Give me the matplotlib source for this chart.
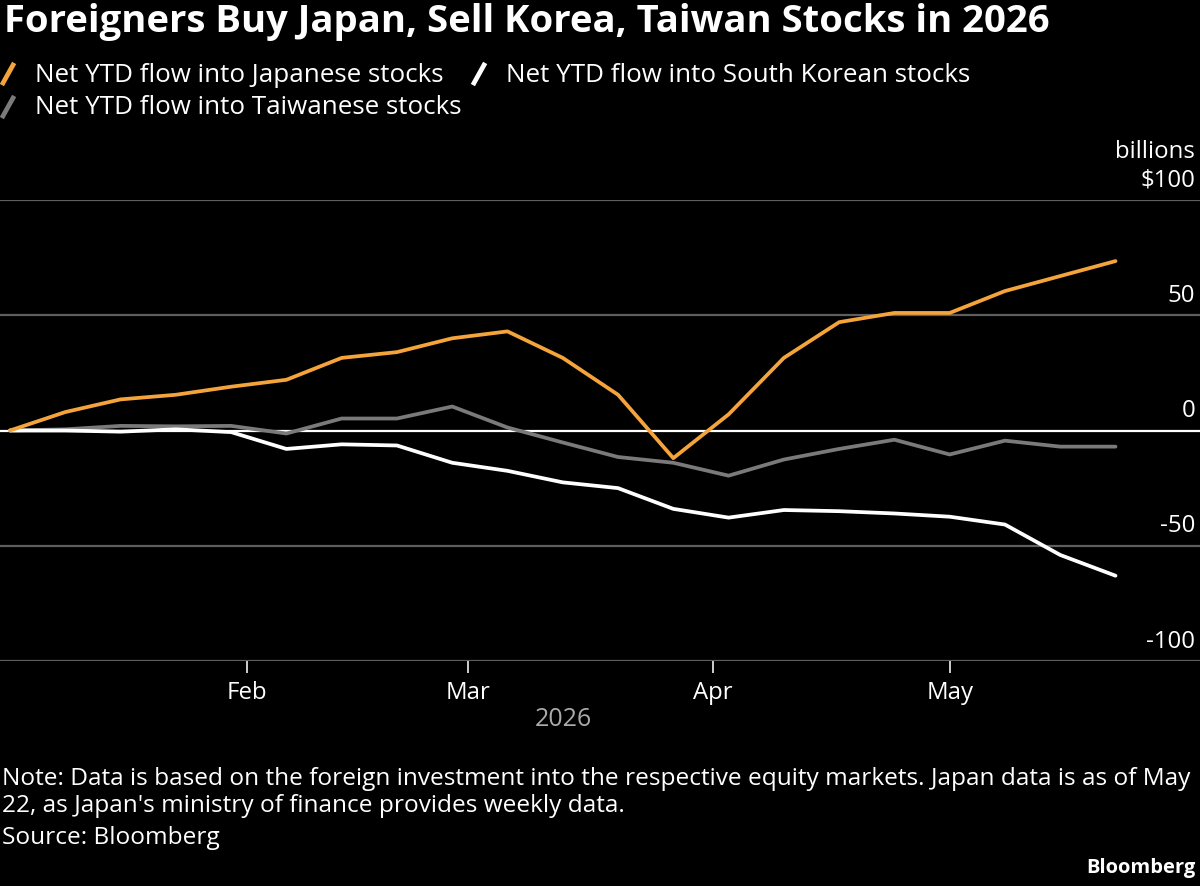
import matplotlib
matplotlib.use("Agg")
import matplotlib.pyplot as plt
from matplotlib.lines import Line2D
import pandas as pd

plt.rcParams["font.family"] = ["Open Sans", "DejaVu Sans"]

# weekly data points (Fridays)
fechas = ["2026-01-02", "2026-01-09", "2026-01-16", "2026-01-23", "2026-01-30",
          "2026-02-06", "2026-02-13", "2026-02-20", "2026-02-27", "2026-03-06",
          "2026-03-13", "2026-03-20", "2026-03-27", "2026-04-03", "2026-04-10",
          "2026-04-17", "2026-04-24", "2026-05-01", "2026-05-08", "2026-05-15",
          "2026-05-22"]
japon = [0, 8, 13.5, 15.5, 19, 22, 31.5, 34, 40, 43,
         31.5, 15.5, -12, 7, 31.5, 47, 51, 51, 60.5, 67, 73.5]
corea = [0, 0, -0.5, 0.5, -0.7, -8, -6, -6.5, -14, -17.5,
         -22.5, -25, -34, -37.8, -34.5, -35, -36, -37.4, -40.8, -54, -63]
taiwan = [0, 0.5, 2, 1.8, 2, -1.3, 5.2, 5.2, 10.4, 1.3,
          -5.2, -11.5, -14, -19.6, -12.6, -8, -4, -10.4, -4.4, -7, -7]

series = ["Net YTD flow into Japanese stocks",
          "Net YTD flow into South Korean stocks",
          "Net YTD flow into Taiwanese stocks"]
colores = ["#F5A33B", "#FFFFFF", "#7A7A7A"]
yticks = [-100, -50, 0, 50, 100]
ytick_labels = ["-100", "-50", "0", "50", "$100"]
meses = ["2026-02-01", "2026-03-01", "2026-04-01", "2026-05-01"]
mes_labels = ["Feb", "Mar", "Apr", "May"]

fechas = pd.to_datetime(fechas)
W, H = 1200, 887
fs = 17.3

fig = plt.figure(figsize=(12, 8.87), dpi=100, facecolor="black")
ax = fig.add_axes([0, (H - 662) / H, 1, (662 - 201) / H])
ax.set_facecolor("black")

# gridlines
for v in yticks:
    ax.axhline(v, color="white" if v == 0 else "#5E5E5E", lw=1.6, zorder=1)

# lines (Taiwan, Korea, Japan on top)
for datos, col in zip([taiwan, corea, japon], [colores[2], colores[1], colores[0]]):
    ax.plot(fechas, datos, color=col, lw=2.7, solid_joinstyle="round",
            solid_capstyle="round", zorder=3)

ax.set_ylim(-100, 100)
ax.set_xlim(pd.Timestamp("2026-01-02") - pd.Timedelta(days=1.27),
            pd.Timestamp("2026-05-22") + pd.Timedelta(days=10.7))
for s in ax.spines.values():
    s.set_visible(False)
ax.set_yticks([])
ax.set_xticks(pd.to_datetime(meses))
ax.set_xticklabels(mes_labels)
ax.tick_params(axis="x", colors="#DDDDDD", length=8.5, width=1.3, pad=5,
               labelsize=fs, labelcolor="white")

# y labels above gridlines on the right
trans = ax.get_yaxis_transform()
for v, lab in zip(yticks, ytick_labels):
    ax.text(0.996, v + 3.6, lab, transform=trans, ha="right", va="bottom",
            color="white", fontsize=fs)
ax.text(0.996, 100 + 16, "billions", transform=trans, ha="right", va="bottom",
        color="white", fontsize=fs)

fig.text(563 / W, 1 - 720 / H, "2026", ha="center", va="center",
         color="#AAAAAA", fontsize=18)

# title
fig.text(4 / W, 1 - 22 / H, "Foreigners Buy Japan, Sell Korea, Taiwan Stocks in 2026",
         ha="left", va="center", color="white", fontsize=27.5, fontweight="bold")

# legend
leg = [(2, 75, 0), (473, 75, 1), (2, 108, 2)]
for x0, yc, i in leg:
    fig.add_artist(Line2D([(x0 + 1) / W, (x0 + 11) / W],
                          [1 - (yc + 9) / H, 1 - (yc - 9) / H],
                          color=colores[i], lw=3.4, transform=fig.transFigure))
    fig.text((x0 + 33) / W, 1 - yc / H, series[i], ha="left", va="center",
             color="white", fontsize=18.7)

# notes
fig.text(2 / W, 1 - 779 / H,
         "Note: Data is based on the foreign investment into the respective equity markets. Japan data is as of May",
         ha="left", va="center", color="white", fontsize=17.6)
fig.text(2 / W, 1 - 806 / H, "22, as Japan's ministry of finance provides weekly data.",
         ha="left", va="center", color="white", fontsize=17.6)
fig.text(2 / W, 1 - 838 / H, "Source: Bloomberg", ha="left", va="center",
         color="white", fontsize=17.6)
fig.text(1196 / W, 1 - 868 / H, "Bloomberg", ha="right", va="center",
         color="white", fontsize=14.5, fontweight="bold")

fig.savefig("out.png", dpi=100, facecolor="black")
